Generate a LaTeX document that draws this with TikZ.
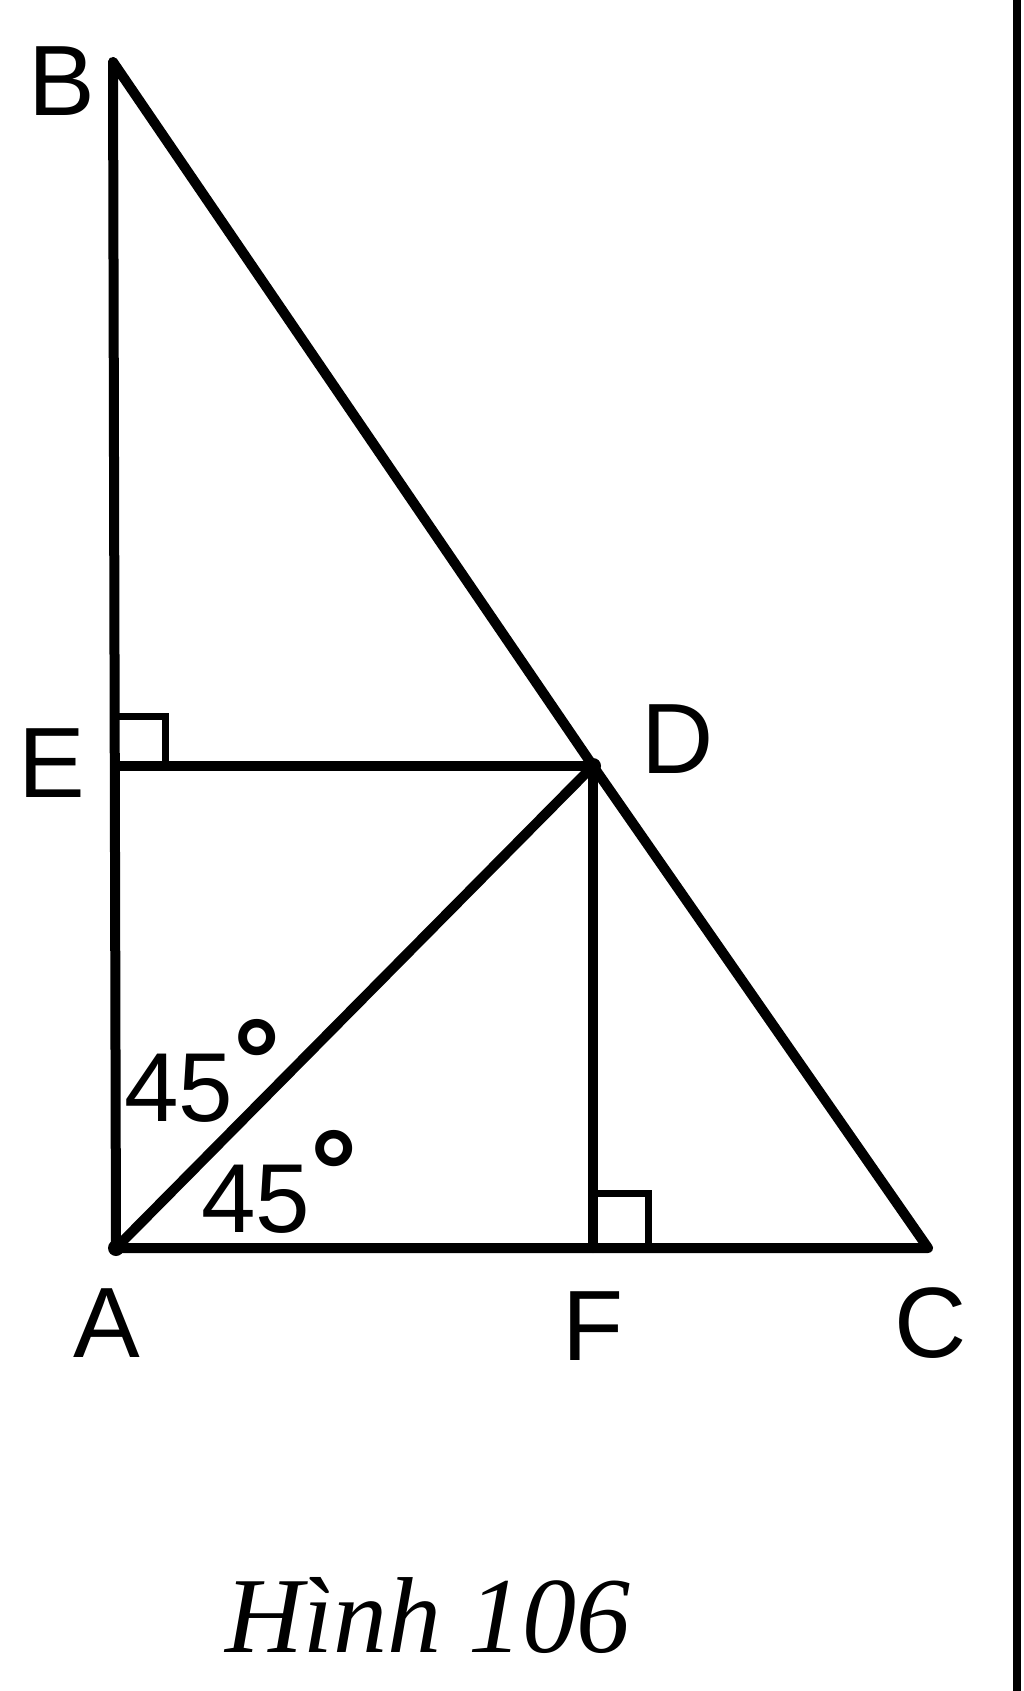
\documentclass[tikz,border=0pt]{standalone}
\usepackage{fontspec}
\setmainfont{Liberation Sans}
\newfontfamily\capfont{Liberation Serif}
\usetikzlibrary{calc}
\newcommand{\degsym}{\raisebox{0.2em}{\bfseries\fontsize{118}{118}\selectfont °}}
\begin{document}
\begin{tikzpicture}[x=1pt,y=-1pt,
  seg/.style={line width=10pt, line cap=round, line join=round},
  rmark/.style={line width=7pt},
  lbl/.style={inner sep=0pt, font=\fontsize{100}{110}\selectfont},
  ang/.style={inner sep=0pt, anchor=base west, font=\fontsize{98}{110}\selectfont}]
\useasboundingbox (0,0) rectangle (1024,1691);
\fill[white] (0,0) rectangle (1024,1691);
\fill[black] (1013,0) rectangle (1021,1691);
% points
\coordinate (A) at (116,1248);
\coordinate (B) at (113,62);
\coordinate (C) at (928,1248);
\coordinate (D) at (593,766);
\coordinate (E) at (115,766);
\coordinate (F) at (593,1248);
% lines
\draw[seg] (B) -- (A) -- (C) -- (D) -- (B);
\draw[seg] (E) -- (D) -- (F);
\draw[seg] (A) -- (D);
% right angle marks
\draw[rmark] ($(E)+(0,-50)$) -- ++(50,0) -- ++(0,50);
\draw[rmark] ($(F)+(0,-55)$) -- ++(55,0) -- ++(0,55);
\fill (A) circle (8);
\fill (D) circle (8);
% labels
\node[lbl] (lB) at (62,81) {B};
\node[lbl] (lE) at (52,763) {E};
\node[lbl] (lD) at (678,739) {D};
\node[lbl] (lA) at (107,1323) {A};
\node[lbl] (lF) at (593,1326) {F};
\node[lbl] (lC) at (931,1323) {C};
\node[ang] (a1) at (124,1121) {45\degsym};
\node[ang] (a2) at (201,1232) {45\degsym};
\node[inner sep=0pt, font=\capfont\itshape\fontsize{108}{120}\selectfont] (cap) at (428,1615) {Hình 106};
\end{tikzpicture}
\end{document}
